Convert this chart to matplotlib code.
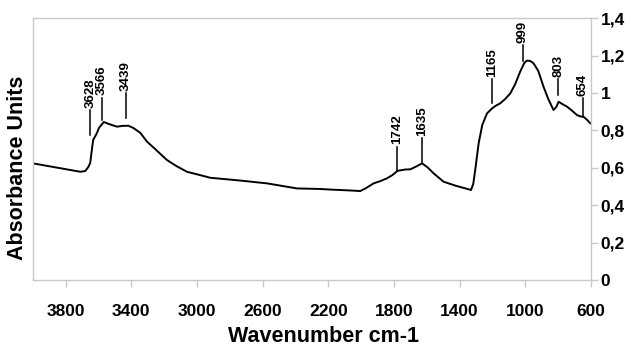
import matplotlib
matplotlib.use('Agg')
import matplotlib.pyplot as plt

# spectrum (wavenumber cm-1, absorbance)
wavenumber = [4000, 3710, 3680, 3662, 3650, 3638, 3632, 3609, 3597, 3567,
              3536, 3487, 3454, 3418, 3387, 3344, 3304, 3254, 3183, 3126,
              3061, 2980, 2919, 2736, 2573, 2391, 2249, 2188, 2066, 2005,
              1969, 1924, 1883, 1842, 1810, 1778, 1731, 1700, 1664, 1629,
              1597, 1559, 1498, 1426, 1335, 1331, 1317, 1305, 1284, 1262,
              1233, 1203, 1183, 1152, 1122, 1091, 1061, 1031, 1006, 990,
              970, 950, 921, 889, 860, 828, 811, 797, 775, 746,
              720, 685, 665, 645, 623, 604]
absorbance = [0.624, 0.579, 0.583, 0.604, 0.626, 0.711, 0.749, 0.786, 0.813, 0.845,
              0.834, 0.820, 0.824, 0.825, 0.813, 0.786, 0.740, 0.700, 0.642, 0.610,
              0.579, 0.561, 0.547, 0.532, 0.517, 0.490, 0.487, 0.484, 0.479, 0.476,
              0.492, 0.517, 0.529, 0.544, 0.561, 0.584, 0.591, 0.592, 0.607, 0.624,
              0.604, 0.571, 0.526, 0.505, 0.483, 0.481, 0.513, 0.588, 0.731, 0.829,
              0.891, 0.917, 0.930, 0.945, 0.968, 0.998, 1.048, 1.114, 1.160, 1.173,
              1.171, 1.159, 1.118, 1.034, 0.968, 0.909, 0.925, 0.953, 0.941, 0.927,
              0.909, 0.882, 0.875, 0.873, 0.856, 0.838]

# peak annotations: label, where the marker line sits, line bottom/top
peak_labels = ["3628", "3566", "3439", "1742", "1635", "1165", "999", "803", "654"]
peak_pos = [3650, 3581, 3432, 1783, 1627, 1202, 1016, 798, 651]
peak_low = [0.775, 0.856, 0.865, 0.584, 0.624, 0.945, 1.173, 0.989, 0.873]
peak_high = [0.909, 0.975, 0.998, 0.713, 0.758, 1.075, 1.257, 1.073, 0.972]

x_ticks = [3800, 3400, 3000, 2600, 2200, 1800, 1400, 1000, 600]
y_ticks = [0, 0.2, 0.4, 0.6, 0.8, 1.0, 1.2, 1.4]
y_tick_labels = ["0", "0,2", "0,4", "0,6", "0,8", "1", "1,2", "1,4"]

plt.rcParams['font.family'] = ['Liberation Sans', 'DejaVu Sans']
grey = '#c8c8c8'

fig = plt.figure(figsize=(6.3, 3.48), dpi=100)
ax = fig.add_axes([0.052, 0.195, 0.886, 0.753])

ax.plot(wavenumber, absorbance, color='black', lw=1.4)

for lab, p, lo, hi in zip(peak_labels, peak_pos, peak_low, peak_high):
    ax.plot([p, p], [lo, hi], color='black', lw=1.1)
    ax.text(p, hi + 0.012, lab, rotation=90, ha='center', va='bottom',
            fontsize=9.5, fontweight='bold')

ax.set_xlim(4000, 600)
ax.set_ylim(0, 1.4)

for s in ax.spines.values():
    s.set_color(grey)
    s.set_linewidth(1.0)

ax.yaxis.tick_right()
ax.set_yticks(y_ticks)
ax.set_yticklabels(y_tick_labels)
ax.set_xticks(x_ticks)
ax.tick_params(axis='both', direction='out', length=5, color=grey, width=1.0,
               labelsize=12.5)
ax.tick_params(axis='x', pad=12)
ax.tick_params(axis='y', pad=2)
for t in ax.get_xticklabels() + ax.get_yticklabels():
    t.set_fontweight('bold')

ax.set_xlabel("Wavenumber cm-1", fontsize=15.5, fontweight='bold',
              va='center')
ax.xaxis.set_label_coords(0.52, -0.216)
ax.yaxis.set_label_position('left')
ax.set_ylabel("Absorbance Units", fontsize=15.5, fontweight='bold',
              va='center')
ax.yaxis.set_label_coords(-0.028, 0.427)

fig.savefig("out.png", dpi=100)
